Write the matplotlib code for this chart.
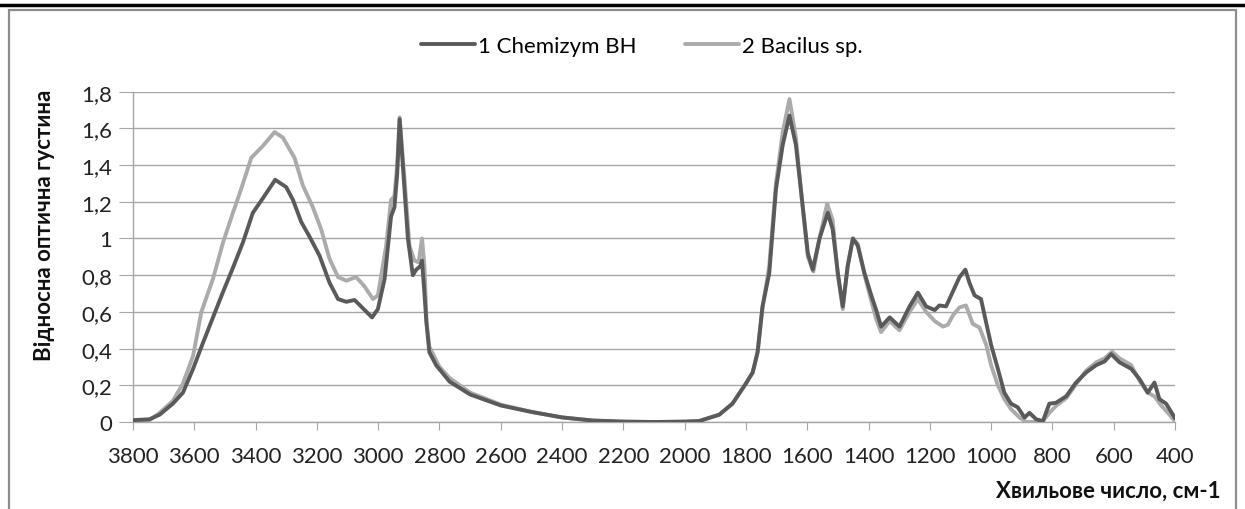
import matplotlib
matplotlib.use("Agg")
import matplotlib.pyplot as plt
from matplotlib.patches import Rectangle
from matplotlib.lines import Line2D
from matplotlib.ticker import FuncFormatter

plt.rcParams['font.family'] = ['Lato', 'DejaVu Sans']

series_names = ["1 Chemizym BH", "2 Bacilus sp."]

wn1 = [3800, 3746, 3713, 3670, 3637, 3604, 3572, 3539, 3506, 3474, 3441, 3409, 3376, 3336,
       3300, 3278, 3251, 3224, 3191, 3159, 3131, 3104, 3077, 3050, 3020, 3001, 2979, 2958,
       2947, 2938, 2930, 2920, 2903, 2887, 2876, 2862, 2857, 2849, 2843, 2833, 2811, 2767,
       2700, 2600, 2500, 2400, 2300, 2200, 2100, 2000, 1953, 1887, 1844, 1800, 1778, 1762,
       1746, 1724, 1702, 1680, 1658, 1637, 1615, 1598, 1582, 1560, 1533, 1517, 1500, 1484,
       1468, 1451, 1435, 1413, 1391, 1375, 1359, 1331, 1299, 1266, 1239, 1212, 1184, 1169,
       1147, 1125, 1103, 1084, 1071, 1054, 1033, 1016, 1000, 978, 957, 935, 913, 891, 875,
       853, 831, 810, 788, 755, 723, 690, 657, 630, 608, 581, 543, 516, 489, 467, 451, 429,
       407, 400]
ab1 = [0.01, 0.015, 0.04, 0.10, 0.16, 0.29, 0.43, 0.57, 0.71, 0.84, 0.98, 1.14, 1.22, 1.32,
       1.28, 1.21, 1.09, 1.01, 0.905, 0.76, 0.67, 0.655, 0.665, 0.62, 0.57, 0.615, 0.78, 1.12,
       1.17, 1.35, 1.65, 1.41, 1.0, 0.80, 0.83, 0.85, 0.88, 0.70, 0.55, 0.38, 0.31, 0.22,
       0.15, 0.09, 0.055, 0.025, 0.008, 0.002, 0.0, 0.002, 0.005, 0.04, 0.10, 0.21, 0.27, 0.38,
       0.63, 0.81, 1.27, 1.51, 1.67, 1.51, 1.18, 0.92, 0.83, 1.0, 1.14, 1.05, 0.81, 0.63,
       0.85, 1.0, 0.96, 0.81, 0.69, 0.61, 0.52, 0.57, 0.52, 0.63, 0.705, 0.63, 0.61, 0.635,
       0.63, 0.71, 0.79, 0.83, 0.76, 0.69, 0.67, 0.54, 0.42, 0.29, 0.16, 0.10, 0.08, 0.024, 0.05,
       0.015, 0.005, 0.10, 0.105, 0.14, 0.215, 0.27, 0.31, 0.33, 0.37, 0.325, 0.29, 0.235, 0.16, 0.215, 0.125, 0.10,
       0.04, 0.02]

wn2 = [3800, 3746, 3713, 3670, 3637, 3604, 3577, 3539, 3506, 3474, 3447, 3414, 3376, 3338,
       3311, 3273, 3246, 3213, 3186, 3159, 3131, 3104, 3072, 3045, 3017, 3001, 2974, 2958,
       2947, 2938, 2930, 2914, 2898, 2882, 2868, 2857, 2849, 2842, 2833, 2800, 2767,
       2700, 2600, 2500, 2400, 2300, 2200, 2100, 2000, 1953, 1887, 1844, 1800, 1778, 1762,
       1746, 1724, 1702, 1680, 1658, 1637, 1615, 1598, 1580, 1560, 1535, 1517, 1500, 1484,
       1468, 1451, 1435, 1413, 1391, 1375, 1359, 1331, 1299, 1266, 1239, 1212, 1184, 1157,
       1141, 1125, 1103, 1082, 1060, 1038, 1016, 1000, 978, 957, 935, 907, 886, 864, 831,
       810, 788, 755, 723, 690, 657, 630, 605, 581, 543, 516, 489, 467, 445, 418, 400]
ab2 = [0.005, 0.01, 0.05, 0.115, 0.21, 0.36, 0.60, 0.78, 0.98, 1.14, 1.27, 1.44, 1.505, 1.58,
       1.55, 1.44, 1.29, 1.17, 1.05, 0.89, 0.79, 0.77, 0.79, 0.74, 0.67, 0.69, 0.96, 1.21,
       1.23, 1.40, 1.66, 1.32, 0.96, 0.88, 0.87, 1.0, 0.85, 0.54, 0.41, 0.30, 0.24,
       0.16, 0.095, 0.055, 0.025, 0.008, 0.002, 0.0, 0.002, 0.005, 0.04, 0.10, 0.21, 0.27, 0.38,
       0.62, 0.85, 1.30, 1.58, 1.76, 1.55, 1.17, 0.90, 0.82, 1.0, 1.19, 1.10, 0.80, 0.615,
       0.85, 1.0, 0.97, 0.80, 0.66, 0.56, 0.49, 0.55, 0.50, 0.60, 0.67, 0.60, 0.55, 0.52,
       0.53, 0.58, 0.625, 0.635, 0.535, 0.515, 0.42, 0.31, 0.20, 0.125, 0.07, 0.024, 0.0, 0.0, 0.005,
       0.05, 0.088, 0.13, 0.205, 0.28, 0.325, 0.347, 0.383, 0.347, 0.31, 0.225, 0.16, 0.14, 0.09, 0.04, 0.005]

x_ticks = list(range(3800, 399, -200))
y_ticks = [0, 0.2, 0.4, 0.6, 0.8, 1.0, 1.2, 1.4, 1.6, 1.8]
y_label = "Відносна оптична густина"
x_label = "Хвильове число, см-1"

W, H = 1245, 510
fig = plt.figure(figsize=(W / 100, H / 100), dpi=100)

# outer frame and top rule
fig.add_artist(Rectangle((9 / W, -0.05), (1236 - 9) / W, (H - 11) / H + 0.05,
                         transform=fig.transFigure, fill=False, edgecolor='#8c8c8c', linewidth=1.6))
fig.add_artist(Line2D([0, 1], [(H - 6) / H, (H - 6) / H], transform=fig.transFigure,
                      color='black', linewidth=2.5))

ax = fig.add_axes([133 / W, (H - 423) / H, (1175 - 133) / W, (423 - 92.7) / H])
c1, c2 = '#5a5a5a', '#ababab'
ax.plot(wn1, ab1, color=c1, linewidth=2.8, label=series_names[0], zorder=3,
        solid_joinstyle='round', solid_capstyle='round')
ax.plot(wn2, ab2, color=c2, linewidth=2.8, label=series_names[1], zorder=2,
        solid_joinstyle='round', solid_capstyle='round')

ax.set_xlim(3800, 400)
ax.set_ylim(0, 1.8)
ax.set_xticks(x_ticks)
ax.set_yticks(y_ticks)
ax.yaxis.set_major_formatter(FuncFormatter(lambda v, p: ('%g' % round(v, 1)).replace('.', ',')))
ax.grid(axis='y', color='#a6a6a6', linewidth=1.0)
ax.set_axisbelow(True)
for s in ['top', 'right']:
    ax.spines[s].set_visible(False)
for s in ['left', 'bottom']:
    ax.spines[s].set_color('#a6a6a6')
    ax.spines[s].set_linewidth(1.0)
ax.tick_params(axis='x', length=6, color='#a6a6a6', labelsize=16, pad=11, labelcolor='#222222')
ax.tick_params(axis='y', length=10, color='#a6a6a6', labelsize=16, pad=5, labelcolor='#222222')

fig.text(45 / W, (H - 225) / H, y_label, rotation=90, ha='center', va='center',
         fontsize=16, fontweight='bold', color='#111111')
fig.text(1221 / W, (H - 491) / H, x_label, ha='right', va='center',
         fontsize=16, fontweight='bold', color='#111111')

fig.legend(loc='center', bbox_to_anchor=(642 / W, (H - 47) / H), ncol=2, frameon=False,
           fontsize=16, handlelength=2.4, handletextpad=0.15, columnspacing=2.2)

fig.savefig('out.png', dpi=100)
